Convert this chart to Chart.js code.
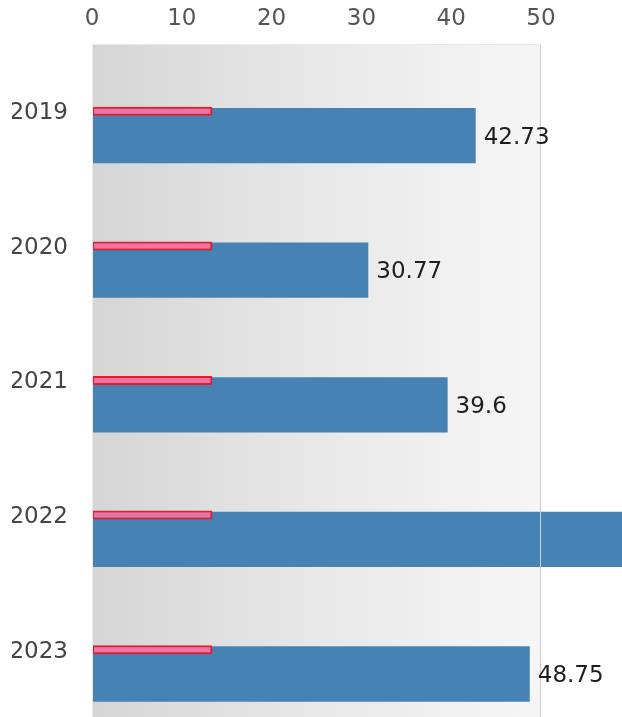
<!DOCTYPE html>
<html>
<head>
<meta charset="utf-8">
<script src="https://cdn.jsdelivr.net/npm/chart.js@4"></script>
<style>
  html, body { margin: 0; padding: 0; background: #fff; }
  #wrap { width: 622px; height: 717px; }
</style>
</head>
<body>
<div id="wrap"><canvas id="chart"></canvas></div>
<script>
const years = ['2019', '2020', '2021', '2022', '2023'];
const actual = [42.73, 30.77, 39.6, 61.2, 48.75];
const target = [13.4, 13.4, 13.4, 13.4, 13.4];
const xTicks = [0, 10, 20, 30, 40, 50];
// empty slot so the blue bars sit below the target line
const spacer = [null, null, null, null, null];

const FONT = 'DejaVu Sans';

// grey gradient panel behind the bars, frame and value labels on top
const panel = {
  id: 'panel',
  beforeDatasetsDraw(chart) {
    const { ctx, chartArea: a } = chart;
    const g = ctx.createLinearGradient(a.left, 0, a.right, 0);
    g.addColorStop(0, '#d5d5d5');
    g.addColorStop(0.5, '#e8e8e8');
    g.addColorStop(1, '#f6f6f6');
    ctx.save();
    ctx.fillStyle = g;
    ctx.fillRect(a.left, a.top, a.right - a.left, a.bottom - a.top);
    ctx.restore();
  },
  afterDatasetsDraw(chart) {
    const { ctx, chartArea: a } = chart;
    ctx.save();
    ctx.lineWidth = 1;
    ctx.strokeStyle = '#e9e9e9';
    ctx.beginPath();
    ctx.moveTo(a.left + 0.5, a.bottom);
    ctx.lineTo(a.left + 0.5, a.top + 0.5);
    ctx.lineTo(a.right, a.top + 0.5);
    ctx.stroke();
    ctx.strokeStyle = '#cdcdcd';
    ctx.beginPath();
    ctx.moveTo(a.right - 0.5, a.top);
    ctx.lineTo(a.right - 0.5, a.bottom);
    ctx.stroke();

    const meta = chart.getDatasetMeta(2);
    ctx.fillStyle = '#1e1e1e';
    ctx.font = '23px "' + FONT + '"';
    ctx.textAlign = 'left';
    ctx.textBaseline = 'middle';
    meta.data.forEach((bar, i) => {
      ctx.fillText(String(actual[i]), bar.x + 8, bar.y + 2);
    });
    ctx.restore();
  }
};

new Chart(document.getElementById('chart'), {
  type: 'bar',
  data: {
    labels: years,
    datasets: [
      {
        label: 'Target',
        data: target,
        grouped: false,
        maxBarThickness: 9,
        backgroundColor: '#f272a0',
        borderColor: '#e8192c',
        borderWidth: 2,
        borderSkipped: false
      },
      { label: '', data: spacer },
      {
        label: 'Actual',
        data: actual,
        backgroundColor: '#4682b4',
        categoryPercentage: 0.722,
        barPercentage: 1.138,
        clip: false
      }
    ]
  },
  options: {
    indexAxis: 'y',
    responsive: true,
    maintainAspectRatio: false,
    animation: false,
    layout: { padding: { left: 12, right: 81, top: 8, bottom: 0 } },
    plugins: { legend: { display: false }, tooltip: { enabled: false } },
    scales: {
      x: {
        position: 'top',
        min: 0,
        max: 50,
        grid: { display: false, drawTicks: false },
        border: { display: false },
        afterBuildTicks: axis => { axis.ticks = xTicks.map(v => ({ value: v })); },
        afterFit: axis => { axis.height = 36; },
        ticks: { color: '#555', padding: 11, font: { family: FONT, size: 23 } }
      },
      y: {
        grid: { display: false, drawTicks: false },
        border: { display: false },
        afterFit: axis => {
          axis.width = 80;
          axis.paddingTop = 0;
          axis.paddingBottom = 0;
        },
        ticks: { color: '#444', padding: 24, labelOffset: 2, font: { family: FONT, size: 23 } }
      }
    }
  },
  plugins: [panel]
});
</script>
</body>
</html>
